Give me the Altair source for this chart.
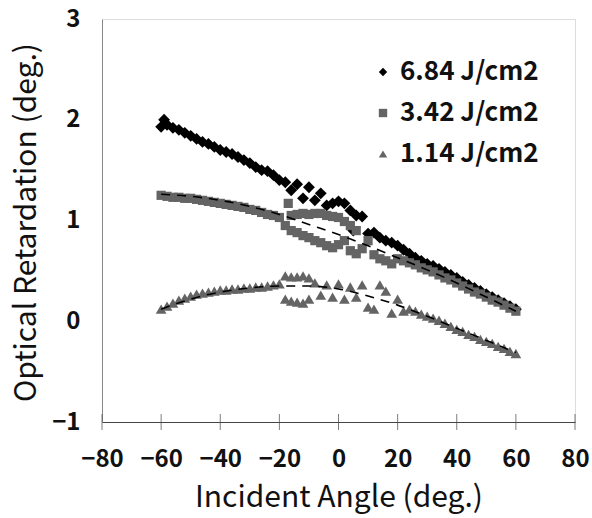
import altair as alt
import pandas as pd

# ---------------- data ----------------
series_names = ["6.84 J/cm2", "3.42 J/cm2", "1.14 J/cm2"]

x_684 = [-60, -59, -58, -56, -54, -52, -50, -48, -46, -44, -42, -40, -38, -36, -34, -32, -30,
         -28, -26, -24, -22, -20, -18, -16, -14, -12, -10, -8, -6, -4, -2, 0, 2, 4, 6, 8,
         5, 10, 12, 14, 16, 18, 20, 22, 24, 26, 28, 30, 32, 34, 36, 38, 40, 42, 44, 46, 48,
         50, 52, 54, 56, 58, 60]
y_684 = [1.93, 2.00, 1.95, 1.92, 1.90, 1.87, 1.84, 1.81, 1.78, 1.76, 1.73, 1.70, 1.68, 1.66, 1.63, 1.60, 1.57,
         1.53, 1.50, 1.49, 1.45, 1.40, 1.38, 1.30, 1.36, 1.22, 1.33, 1.20, 1.27, 1.15, 1.17, 1.19, 1.17, 1.10, 1.05, 1.04,
         0.90, 0.87, 0.88, 0.83, 0.80, 0.78, 0.75, 0.71, 0.67, 0.63, 0.60, 0.57, 0.55, 0.52, 0.49, 0.46, 0.43, 0.39, 0.36, 0.33, 0.30,
         0.27, 0.24, 0.21, 0.18, 0.15, 0.12]

x_342 = [-60, -58, -56, -54, -52, -50, -48, -46, -44, -42, -40, -38, -36, -34, -32, -30, -28, -26, -24, -22, -20,
         -17, -16, -14, -12, -10, -8, -6, -4, -2, 0, 2, 4, 6,
         -18, -16, -14, -12, -10, -8, -6, -4, -2, 0, 2, 4, 6, 8, 10, 12, 14, 16, 18,
         20, 22, 24, 26, 28, 30, 32, 34, 36, 38, 40, 42, 44, 46, 48, 50, 52, 54, 56, 58, 60]
y_342 = [1.25, 1.24, 1.23, 1.23, 1.22, 1.22, 1.21, 1.20, 1.19, 1.18, 1.17, 1.16, 1.15, 1.14, 1.13, 1.11, 1.10, 1.08, 1.06, 1.05, 1.03,
         1.17, 1.05, 1.06, 1.07, 1.06, 1.07, 1.07, 1.05, 1.04, 1.03, 0.99, 0.95, 0.90,
         0.95, 0.90, 0.88, 0.85, 0.83, 0.80, 0.78, 0.75, 0.73, 0.76, 0.80, 0.70, 0.67, 0.72, 0.80, 0.66, 0.62, 0.60, 0.57,
         0.62, 0.60, 0.58, 0.56, 0.53, 0.51, 0.49, 0.46, 0.43, 0.41, 0.38, 0.35, 0.32, 0.29, 0.27, 0.24, 0.21, 0.19, 0.16, 0.13, 0.10]

x_114 = [-60, -58, -56, -54, -52, -50, -48, -46, -44, -42, -40, -38, -36, -34, -32, -30, -28, -26, -24, -22, -20,
         -18, -16, -14, -12, -10,
         -18, -16, -14, -12, -10, -8, -6, -4, -2, 0, 2, 4, 6, 8, 10, 12, 14, 16, 18,
         20, 22, 24, 26, 28, 30, 32, 34, 36, 38, 40, 42, 44, 46, 48, 50, 52, 54, 56, 58, 60]
y_114 = [0.12, 0.15, 0.18, 0.21, 0.23, 0.25, 0.27, 0.28, 0.29, 0.30, 0.31, 0.31, 0.32, 0.32, 0.33, 0.33, 0.34, 0.34, 0.35, 0.36, 0.37,
         0.45, 0.44, 0.44, 0.45, 0.43,
         0.22, 0.20, 0.19, 0.18, 0.22, 0.38, 0.26, 0.36, 0.24, 0.37, 0.22, 0.34, 0.24, 0.36, 0.14, 0.12, 0.36, 0.30, 0.08,
         0.22, 0.10, 0.12, 0.10, 0.07, 0.05, 0.03, 0.01, -0.02, -0.05, -0.08, -0.10, -0.13, -0.15, -0.18, -0.20, -0.22, -0.25, -0.27, -0.30, -0.32]

# fitted (dashed) trend curves
trend_x = [-60, -50, -40, -30, -20, -10, 0, 10, 20, 30, 40, 50, 60]
trend_342 = [1.26, 1.24, 1.20, 1.14, 1.06, 0.96, 0.86, 0.75, 0.63, 0.51, 0.38, 0.24, 0.10]
trend_114 = [0.12, 0.22, 0.29, 0.33, 0.35, 0.35, 0.32, 0.25, 0.16, 0.05, -0.07, -0.19, -0.31]

x_ticks = [-80, -60, -40, -20, 0, 20, 40, 60, 80]
y_ticks = [-1, 0, 1, 2, 3]

# ---------------- tables ----------------
def pts(xs, ys, name):
    return pd.DataFrame({"angle": xs, "ret": ys, "series": name})

df684 = pts(x_684, y_684, series_names[0])
df342 = pts(x_342, y_342, series_names[1])
df114 = pts(x_114, y_114, series_names[2])
trend = pd.concat([
    pd.DataFrame({"angle": trend_x, "ret": trend_342, "fit": "a"}),
    pd.DataFrame({"angle": trend_x, "ret": trend_114, "fit": "b"}),
])
ticks_df = pd.DataFrame({"angle": x_ticks})

FONT = "Noto Sans CJK JP"
GRAY = "#646464"
TXT = "#111111"

xscale = alt.Scale(domain=[-80, 80], nice=False, zero=False)
yscale = alt.Scale(domain=[-1, 3], nice=False, zero=False)

x_enc = alt.X("angle:Q", scale=xscale,
              axis=alt.Axis(title="Incident Angle (deg.)", values=x_ticks, ticks=False,
                            grid=False, labelPadding=25, labelFontSize=24, titleFontSize=30,
                            labelOverlap=False, labelFlush=False, labelFontWeight="bold",
                            titleY=75, titleBaseline="middle", domainColor="#444",
                            labelColor=TXT, titleColor=TXT, labelFont=FONT, titleFont=FONT,
                            titleFontWeight="normal", format="d"))
y_enc = alt.Y("ret:Q", scale=yscale,
              axis=alt.Axis(title="Optical Retardation (deg.)", values=y_ticks, ticks=False,
                            grid=False, labelPadding=22, labelFontSize=24, titleFontSize=30,
                            labelOverlap=False, labelFlush=False, labelFontWeight="bold",
                            titleX=-76, titleY=203, titleBaseline="middle", titleAngle=270,
                            domainColor="#888", labelColor=TXT, titleColor=TXT,
                            labelFont=FONT, titleFont=FONT, titleFontWeight="normal", format="d"))

leg = alt.Legend(title=None, orient="none", legendX=268, legendY=40,
                 labelFontSize=26, labelFont=FONT, labelColor=TXT, labelFontWeight="bold",
                 symbolSize=70, rowPadding=15, labelOffset=4, symbolStrokeWidth=0)
color = alt.Color("series:N",
                  scale=alt.Scale(domain=series_names, range=["#000000", GRAY, GRAY]),
                  legend=leg)
shape = alt.Shape("series:N",
                  scale=alt.Scale(domain=series_names, range=["diamond", "square", "triangle-up"]),
                  legend=leg)

def layer(df, size):
    return alt.Chart(df).mark_point(filled=True, opacity=1, size=size, strokeWidth=0).encode(
        x=x_enc, y=y_enc, color=color, shape=shape)

l684 = layer(df684, 140)
l342 = layer(df342, 85)
l114 = layer(df114, 115)

trend_layer = alt.Chart(trend).mark_line(color="black", strokeDash=[9, 7], strokeWidth=1.6,
                                         interpolate="monotone").encode(
    x=alt.X("angle:Q", scale=xscale), y=alt.Y("ret:Q", scale=yscale), detail="fit:N")

tick_layer = alt.Chart(ticks_df).mark_tick(orient="vertical", size=16, thickness=1,
                                           color="#444").encode(
    x=alt.X("angle:Q", scale=xscale), y=alt.datum(-1, scale=yscale))

chart = alt.layer(l684, l342, l114, trend_layer, tick_layer).properties(
    width=473, height=403,
    autosize=alt.AutoSizeParams(type="none"),
    padding={"left": 102, "top": 19, "right": 17, "bottom": 96},
).configure_view(stroke="#aaaaaa", strokeWidth=1).configure(background="white")

chart.save("out.html", embed_options={"renderer": "svg", "actions": False})
